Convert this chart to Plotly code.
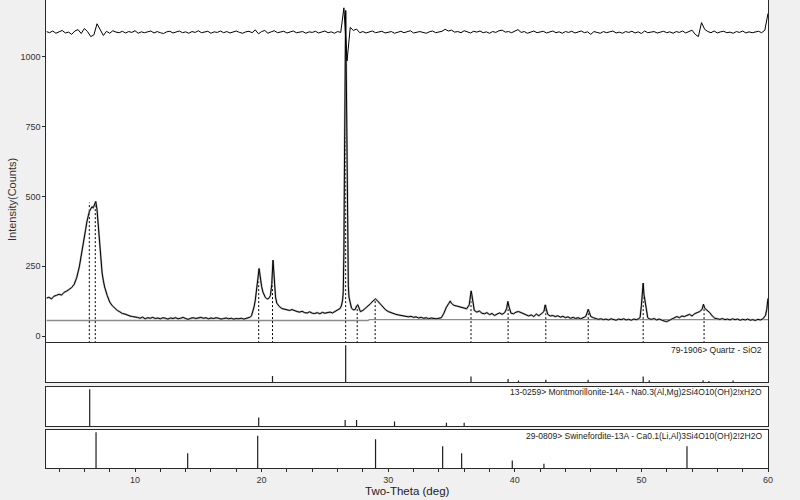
import numpy as np
import plotly.graph_objects as go

# measured pattern (deg, counts)
two_theta = [
    3.0, 3.2, 3.4, 3.6, 3.8, 4.0, 4.2, 4.4, 4.6, 4.8, 5.0, 5.2,
    5.4, 5.6, 5.8, 6.0, 6.1, 6.2, 6.3, 6.4, 6.5, 6.6, 6.7, 6.8, 6.9, 7.0, 7.1, 7.2, 7.3, 7.4, 7.5, 7.6,
    7.8, 8.0, 8.2, 8.4, 8.6, 8.8, 9.0, 9.2, 9.4, 9.6, 9.8,
    10.0, 10.2, 10.4, 10.6, 10.8, 11.0, 11.2, 11.4, 11.6, 11.8,
    12.0, 12.2, 12.4, 12.6, 12.8, 13.0, 13.2, 13.4, 13.6, 13.8,
    14.0, 14.2, 14.4, 14.6, 14.8, 15.0, 15.2, 15.4, 15.6, 15.8,
    16.0, 16.2, 16.4, 16.6, 16.8, 17.0, 17.2, 17.4, 17.6, 17.8,
    18.0, 18.2, 18.4, 18.6, 18.8, 19.0,
    19.1, 19.2, 19.3, 19.4, 19.5, 19.6, 19.7, 19.75, 19.8, 19.85,
    19.9, 20.0, 20.1, 20.2, 20.3, 20.4, 20.5, 20.6, 20.7, 20.8,
    20.85, 20.9, 20.95, 21.0, 21.1, 21.2, 21.4, 21.6, 21.8,
    22.0, 22.2, 22.4, 22.6, 22.8, 23.0, 23.2, 23.4, 23.6, 23.8,
    24.0, 24.2, 24.4, 24.6, 24.8, 25.0, 25.2, 25.4, 25.6, 25.8, 26.0, 26.2,
    26.3, 26.4, 26.45, 26.5, 26.55, 26.6, 26.64, 26.68, 26.72, 26.76,
    26.8, 26.85, 26.9, 27.0, 27.1, 27.2, 27.3,
    27.4, 27.5, 27.6, 27.7, 27.8, 28.0, 28.2, 28.4, 28.6, 28.8,
    28.9, 29.0, 29.1, 29.2, 29.4, 29.6, 29.8, 30.0, 30.2, 30.4, 30.6, 30.8,
    31.0, 31.2, 31.4, 31.6, 31.8, 32.0, 32.2, 32.4, 32.6, 32.8,
    33.0, 33.2, 33.4, 33.6, 33.8, 34.0, 34.2,
    34.4, 34.6, 34.8, 34.9, 35.0, 35.2, 35.4, 35.6, 35.8, 36.0,
    36.2, 36.4, 36.5, 36.55, 36.6, 36.7, 36.8, 37.0, 37.2, 37.4,
    37.6, 37.8, 38.0, 38.2, 38.4, 38.6, 38.8, 39.0, 39.2, 39.35,
    39.45, 39.55, 39.7, 39.9, 40.1, 40.3, 40.5, 40.7, 40.9, 41.1,
    41.3, 41.5, 41.7, 41.9, 42.1, 42.3, 42.4, 42.5, 42.6, 42.8, 43.0,
    43.2, 43.4, 43.6, 43.8, 44.0, 44.2, 44.4, 44.6, 44.8, 45.0,
    45.2, 45.4, 45.6, 45.7, 45.8, 45.9, 46.0,
    46.2, 46.4, 46.6, 46.8, 47.0, 47.2, 47.4, 47.6, 47.8, 48.0,
    48.2, 48.4, 48.6, 48.8, 49.0, 49.2, 49.4, 49.6, 49.8,
    49.9, 50.0, 50.08, 50.14, 50.2, 50.3, 50.4, 50.5, 50.6, 50.8,
    51.0, 51.2, 51.4, 51.6, 51.8, 52.0, 52.2, 52.4, 52.6, 52.8,
    53.0, 53.2, 53.4, 53.6, 53.8, 54.0, 54.2, 54.4, 54.6, 54.8,
    54.9, 55.0, 55.1, 55.2, 55.4, 55.6, 55.8, 56.0,
    56.2, 56.4, 56.6, 56.8, 57.0, 57.2, 57.4, 57.6, 57.8, 58.0,
    58.2, 58.4, 58.6, 58.8, 59.0, 59.2, 59.4, 59.6, 59.8, 59.9, 60.0,
]
counts = [
    136, 139, 133, 143, 146, 150, 147, 157, 161, 168, 174, 186,
    210, 248, 296, 352, 382, 410, 430, 447, 455, 463, 459, 474, 482, 452, 392, 322, 268, 226, 198, 176,
    146, 122, 109, 99, 92, 87, 81, 79, 75, 72, 70,
    69, 67, 64, 68, 62, 66, 64, 67, 63, 65,
    62, 66, 64, 61, 65, 63, 66, 62, 64, 67,
    63, 60, 64, 66, 63, 65, 67, 64, 66, 62,
    65, 63, 66, 64, 61, 63, 65, 62, 64, 61,
    63, 62, 64, 61, 63, 66,
    68, 73, 85, 104, 128, 165, 205, 228, 242, 226,
    205, 178, 158, 146, 138, 134, 133, 137, 146, 185,
    235, 272, 240, 190, 140, 118, 106, 99, 96,
    94, 92, 95, 90, 88, 86, 89, 84, 83, 87,
    82, 81, 84, 80, 85, 82, 84, 86, 83, 88, 92, 99,
    108, 130, 160, 300, 640, 1000, 1165, 980, 700, 420,
    260, 180, 140, 112, 100, 96, 94,
    96, 108, 112, 95, 88, 92, 99, 106, 116, 126,
    131, 133, 129, 124, 113, 102, 94, 88, 84, 81, 78, 76,
    74, 72, 70, 69, 71, 67, 69, 65, 67, 64,
    66, 62, 65, 63, 62, 64, 66,
    82, 104, 118, 126, 117, 110, 108, 105, 103, 100,
    98, 112, 140, 162, 150, 110, 92, 86, 90, 82,
    80, 84, 77, 81, 74, 79, 83, 78, 84, 98,
    124, 104, 82, 80, 86, 88, 84, 78, 75, 72,
    76, 70, 79, 73, 80, 88, 112, 96, 78, 72, 74,
    70, 73, 68, 71, 66, 69, 64, 67, 63, 66,
    62, 65, 70, 82, 96, 84, 70,
    66, 63, 60, 62, 59, 61, 58, 62, 60, 57,
    61, 59, 62, 58, 60, 57, 61, 59, 62,
    68, 110, 172, 190, 150, 118, 82, 66, 62, 60,
    63, 58, 61, 56, 54, 52, 56, 60, 64, 70,
    66, 72, 70, 74, 78, 72, 80, 84, 88, 96,
    114, 100, 96, 92, 84, 72, 64, 62,
    60, 63, 59, 61, 58, 62, 59, 61, 57, 60,
    58, 61, 57, 59, 56, 60, 58, 62, 74, 95, 135,
]

# difference curve, drawn offset at the top, sampled every 0.25 deg from 3
residual_start = 3.0
residual_step = 0.25
residual = [
    1090, 1086, 1092, 1084, 1089, 1094, 1085, 1088,
    1080, 1092, 1097, 1083, 1101, 1090, 1072, 1078,
    1118, 1096, 1076, 1091, 1084, 1093, 1088, 1086,
    1091, 1085, 1090, 1087, 1093, 1084, 1089, 1086,
    1088, 1092, 1085, 1090, 1086, 1083, 1089, 1091,
    1085, 1088, 1092, 1086, 1089, 1084, 1090, 1087,
    1093, 1086, 1088, 1091, 1084, 1089, 1087, 1092,
    1086, 1090, 1085, 1088, 1092, 1087, 1084, 1089,
    1091, 1086, 1096, 1082, 1090, 1094, 1084, 1089,
    1093, 1086, 1088, 1091, 1085, 1089, 1092, 1086,
    1088, 1090, 1084, 1089, 1087, 1091, 1085, 1088,
    1092, 1086, 1089, 1084, 1090, 1087, 1175, 985,
    1105, 1094, 1099, 1086, 1090, 1085, 1088, 1092,
    1086, 1089, 1091, 1085, 1088, 1090, 1084, 1087,
    1091, 1086, 1089, 1093, 1085, 1088, 1090, 1087,
    1084, 1089, 1092, 1086, 1088, 1091, 1098, 1092,
    1095, 1088, 1090, 1086, 1093, 1089, 1085, 1091,
    1088, 1092, 1086, 1089, 1084, 1090, 1087, 1093,
    1095, 1088, 1090, 1086, 1091, 1097, 1087, 1090,
    1084, 1089, 1092, 1086, 1088, 1091, 1085, 1089,
    1092, 1086, 1089, 1084, 1090, 1087, 1091, 1085,
    1088, 1092, 1086, 1089, 1080, 1090, 1087, 1084,
    1090, 1086, 1089, 1092, 1085, 1088, 1084, 1090,
    1087, 1091, 1085, 1089, 1083, 1092, 1086, 1088,
    1090, 1085, 1088, 1091, 1086, 1089, 1084, 1090,
    1087, 1092, 1085, 1090, 1095, 1080, 1072, 1122,
    1098, 1090, 1086, 1092, 1085, 1089, 1091, 1086,
    1088, 1084, 1090, 1087, 1092, 1085, 1089, 1086,
    1088, 1091, 1086, 1095, 1155,
]

background_x = [3.0, 28.4, 28.5, 60.0]
background_y = [56, 56, 59, 59]

# peak markers found on the pattern
peak_pos = [6.39, 6.86, 19.77, 20.86, 26.64, 27.55, 28.97, 36.54, 39.47, 42.45, 45.8, 50.14, 54.95]
peak_height = [478, 480, 240, 272, 1165, 112, 132, 160, 124, 112, 96, 190, 114]

# reference cards (position deg, relative intensity %)
quartz_pos = [20.86, 26.64, 36.54, 39.47, 40.29, 42.45, 45.79, 50.14, 50.62, 54.87, 55.33, 57.24]
quartz_int = [16, 100, 15, 8, 4, 6, 6, 15, 5, 5, 3, 4]
mont_pos = [6.42, 19.77, 26.6, 27.5, 30.5, 34.6, 36.0]
mont_int = [100, 23, 16, 16, 12, 9, 9]
swine_pos = [6.92, 14.16, 19.69, 29.0, 34.3, 35.8, 39.8, 42.3, 53.6]
swine_int = [100, 41, 90, 80, 61, 41, 21, 12, 61]

card_labels = [
    "79-1906> Quartz - SiO2",
    "13-0259> Montmorillonite-14A - Na0.3(Al,Mg)2Si4O10(OH)2!xH2O",
    "29-0809> Swinefordite-13A - Ca0.1(Li,Al)3Si4O10(OH)2!2H2O",
]

y_tick_vals = [0, 250, 500, 750, 1000]
x_minor_ticks = [4, 6, 8, 10, 12, 14, 16, 18, 20, 22, 24, 26, 28, 30, 32, 34, 36, 38, 40,
                 42, 44, 46, 48, 50, 52, 54, 56, 58, 60]
x_tick_labels = {10: "10", 20: "20", 30: "30", 40: "40", 50: "50", 60: "60"}

FONT = "Liberation Sans, Arial, sans-serif"
FRAME = "#2a2a2a"


def sticks(pos, vals, base=0):
    xs, ys = [], []
    for p, v in zip(pos, vals):
        xs += [p, p, None]
        ys += [base, v, None]
    return xs, ys


fig = go.Figure()

fig.add_trace(go.Scatter(x=background_x, y=background_y, mode="lines",
                         line=dict(color="#8c8c8c", width=1.3), xaxis="x", yaxis="y"))

px_, py_ = sticks(peak_pos, peak_height, base=-25)
fig.add_trace(go.Scatter(x=px_, y=py_, mode="lines",
                         line=dict(color="black", width=1, dash="2px,2px"), xaxis="x", yaxis="y"))

# light gray halo under the raw scan (profile fit look)
fig.add_trace(go.Scatter(x=two_theta, y=counts, mode="lines",
                         line=dict(color="#b4b4b4", width=2), xaxis="x", yaxis="y"))
fig.add_trace(go.Scatter(x=two_theta, y=counts, mode="lines",
                         line=dict(color="black", width=1), xaxis="x", yaxis="y"))

res_x = residual_start + residual_step * np.arange(len(residual))
fig.add_trace(go.Scatter(x=res_x, y=residual, mode="lines",
                         line=dict(color="black", width=1), xaxis="x", yaxis="y"))

for i, (pos, vals) in enumerate([(quartz_pos, quartz_int), (mont_pos, mont_int),
                                 (swine_pos, swine_int)], start=2):
    sx, sy = sticks(pos, vals)
    fig.add_trace(go.Scatter(x=sx, y=sy, mode="lines",
                             line=dict(color="#1e1e1e", width=1.2),
                             xaxis=f"x{i}", yaxis=f"y{i}"))

x_dom = [46.4 / 800, 768 / 800]
y_doms = [[1 - 342 / 500, 1.0], [1 - 382 / 500, 1 - 343 / 500],
          [1 - 426 / 500, 1 - 387 / 500], [1 - 468 / 500, 1 - 430 / 500]]

frame = dict(showline=True, mirror=True, linecolor=FRAME, linewidth=1.3,
             showgrid=False, zeroline=False, automargin=False)

layout = dict(
    width=800, height=500,
    margin=dict(l=0, r=0, t=0, b=0),
    paper_bgcolor="#f0f0f0", plot_bgcolor="white",
    showlegend=False,
    font=dict(family=FONT, size=9, color="#333333"),
)

for i in range(1, 5):
    sfx = "" if i == 1 else str(i)
    xa = dict(domain=x_dom, range=[3, 60], anchor=f"y{sfx}", showticklabels=False,
              ticks="", **frame)
    if i > 1:
        xa["matches"] = "x"
    if i == 4:
        xa.update(showticklabels=True, ticks="outside", ticklen=3, tickcolor=FRAME,
                  tickvals=x_minor_ticks,
                  ticktext=[x_tick_labels.get(t, "") for t in x_minor_ticks],
                  tickfont=dict(size=9, color="#333333"))
    layout[f"xaxis{sfx}"] = xa

    ya = dict(domain=y_doms[i - 1], anchor=f"x{sfx}", **frame)
    if i == 1:
        ya.update(range=[-21, 1203], tickvals=y_tick_vals, ticks="outside", ticklen=3,
                  tickcolor=FRAME, tickfont=dict(size=9, color="#333333"))
    else:
        ya.update(range=[0, 106], showticklabels=False, ticks="")
    layout[f"yaxis{sfx}"] = ya

fig.update_layout(**layout)

label_y = [1 - 350 / 500, 1 - 392 / 500, 1 - 436 / 500]
for txt, yy in zip(card_labels, label_y):
    fig.add_annotation(text=txt, xref="paper", yref="paper", x=764 / 800, y=yy,
                       xanchor="right", yanchor="middle", showarrow=False,
                       font=dict(family=FONT, size=8.5, color="#222222"))

fig.add_annotation(text="Intensity(Counts)", xref="paper", yref="paper",
                   x=12 / 800, y=1 - 200 / 500, textangle=-90, showarrow=False,
                   xanchor="center", yanchor="middle",
                   font=dict(family=FONT, size=11, color="#333333"))
fig.add_annotation(text="Two-Theta (deg)", xref="paper", yref="paper",
                   x=407 / 800, y=1 - 491 / 500, showarrow=False,
                   xanchor="center", yanchor="middle",
                   font=dict(family=FONT, size=11.5, color="#222222"))

# page body has a default 8px margin; drop it so the figure sits at the window origin
fig.write_html("out.html", config={"displayModeBar": False},
               post_script="document.body.style.margin='0px';document.body.style.overflow='hidden';")
